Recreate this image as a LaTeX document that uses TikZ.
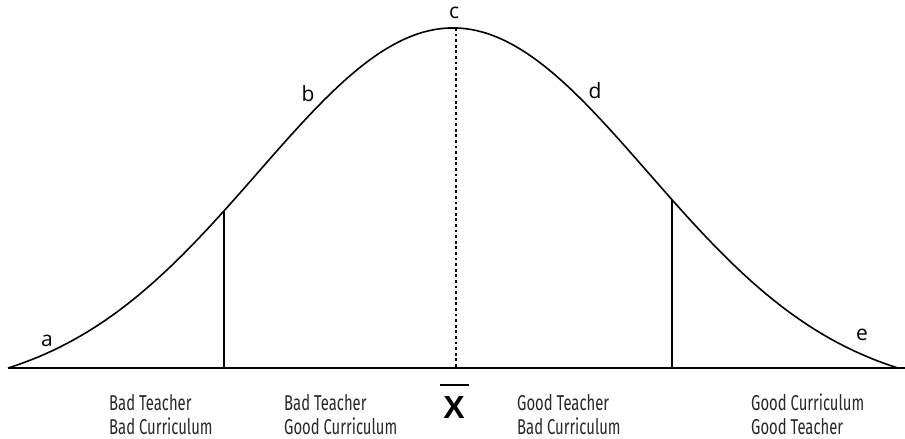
\documentclass[tikz,border=0pt]{standalone}
\usepackage{fontspec}
\setmainfont{Open Sans}
\newfontfamily\condfont[FakeStretch=0.69]{Fira Sans}
\newfontfamily\meanfont{Liberation Sans}
\definecolor{inkgray}{RGB}{40,40,40}
\usetikzlibrary{positioning}

\begin{document}
\begin{tikzpicture}[x=1pt, y=-1pt,
    declare function={bell(\t)=(exp(-(\t)^2/2)-0.074)/0.926;},
    curve/.style={line width=1.6pt, black},
    axis/.style={line width=1.6pt, black},
    divider/.style={line width=1.4pt, black},
    mean/.style={line width=2.8pt, black, dash pattern=on 2.8pt off 2.8pt},
    letter/.style={font=\fontsize{21}{21}\selectfont, text=black, inner sep=0pt},
    region/.style={font=\condfont\fontsize{21.5}{24}\selectfont, text=inkgray,
      align=left, anchor=north west, inner sep=0pt},
  ]
    \useasboundingbox (0,0) rectangle (905,439);

    % base line and bell curve
    \coordinate (axisL) at (8,368);
    \coordinate (axisR) at (905,368);
    \draw[axis] (axisL) -- (axisR);
    \draw[curve] plot[domain=-2.282:2.282, samples=200, smooth]
      ({453+195*\x}, {368-340*bell(\x)});

    % dividers
    \coordinate (peak) at (456,{368-340*bell(3/195)});
    \coordinate (peakfoot) at (456,368);
    \coordinate (leftcut) at (224,{368-340*bell((224-453)/195)});
    \coordinate (leftfoot) at (224,368);
    \coordinate (rightcut) at (672,{368-340*bell((672-453)/195)});
    \coordinate (rightfoot) at (672,368);
    \draw[mean] (peak) -- (peakfoot);
    \draw[divider] (leftcut) -- (leftfoot);
    \draw[divider] (rightcut) -- (rightfoot);

    % curve letters
    \node[letter] (la) at (47,341) {a};
    \node[letter] (lb) at (308,94) {b};
    \node[letter] (lc) at (454,13) {c};
    \node[letter] (ld) at (595,91) {d};
    \node[letter] (le) at (862,335) {e};

    % mean symbol
    \node[inner sep=0pt, align=center, font=\meanfont\bfseries\fontsize{32}{32}\selectfont]
      (xbar) at (454,401) {\rule{29pt}{2.8pt}\\[0pt]X};

    % region captions
    \node[region] (r1) at (109,394) {Bad Teacher\\Bad Curriculum};
    \node[region] (r2) at (284,394) {Bad Teacher\\Good Curriculum};
    \node[region] (r3) at (517,394) {Good Teacher\\Bad Curriculum};
    \node[region] (r4) at (751,394) {Good Curriculum\\Good Teacher};
  \end{tikzpicture}
\end{document}
